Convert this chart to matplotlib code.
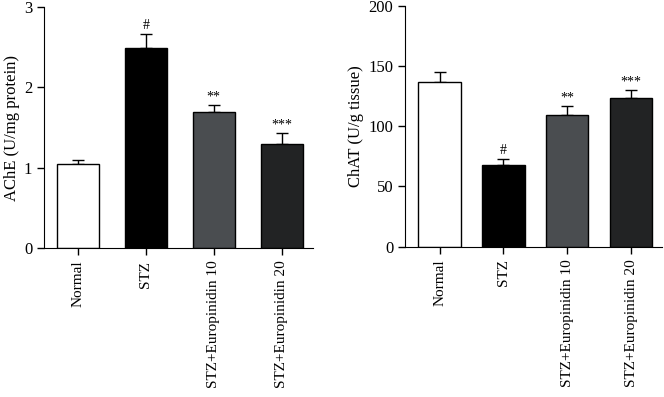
import matplotlib
matplotlib.use("Agg")
from matplotlib import pyplot as plt

# Data
groups = ["Normal", "STZ", "STZ+Europinidin 10", "STZ+Europinidin 20"]
ache_mean = [1.05, 2.49, 1.69, 1.30]
ache_err = [0.05, 0.18, 0.09, 0.13]
ache_marks = ["", "#", "**", "***"]
chat_mean = [136.5, 67.5, 109.5, 123.5]
chat_err = [8.5, 5.0, 7.0, 6.5]
chat_marks = ["", "#", "**", "***"]

bar_colors = ["#ffffff", "#000000", "#4a4d50", "#222324"]

plt.rcParams['font.family'] = ['Liberation Serif', 'DejaVu Serif']
plt.rcParams['font.size'] = 12

fig = plt.figure(figsize=(6.64, 3.97), dpi=100)
ax1 = fig.add_axes([0.0663, 0.3753, 0.405, 0.607])
ax2 = fig.add_axes([0.610, 0.3786, 0.387, 0.607])


def draw_panel(ax, means, errs, marks, ylim, yticks, ylabel, width, xlim):
    x = range(len(groups))
    ax.bar(x, means, width=width, color=bar_colors, edgecolor="black",
           linewidth=1.0, zorder=2)
    ax.errorbar(x, means, yerr=[[0] * len(errs), errs], fmt="none",
                ecolor="black", elinewidth=1.0, capsize=4.5, capthick=1.0,
                zorder=1)
    off = (ylim[1] - ylim[0]) * 0.008
    for xi, m, e, s in zip(x, means, errs, marks):
        if s:
            ax.text(xi, m + e + off, s, ha="center", va="bottom", fontsize=10)
    ax.set_xlim(*xlim)
    ax.set_ylim(*ylim)
    ax.set_yticks(yticks)
    ax.set_xticks(list(x))
    ax.set_xticklabels(groups, rotation=90, va="top", ha="center", fontsize=11)
    ax.set_ylabel(ylabel, labelpad=3)
    ax.spines['top'].set_visible(False)
    ax.spines['right'].set_visible(False)
    ax.tick_params(direction="out", length=5, width=1)
    ax.tick_params(axis="x", pad=4)


draw_panel(ax1, ache_mean, ache_err, ache_marks, (0, 3), [0, 1, 2, 3],
           "AChE (U/mg protein)", 0.62, (-0.5, 3.46))
draw_panel(ax2, chat_mean, chat_err, chat_marks, (0, 200), [0, 50, 100, 150, 200],
           "ChAT (U/g tissue)", 0.66, (-0.54, 3.48))

fig.savefig("out.png", dpi=100)
